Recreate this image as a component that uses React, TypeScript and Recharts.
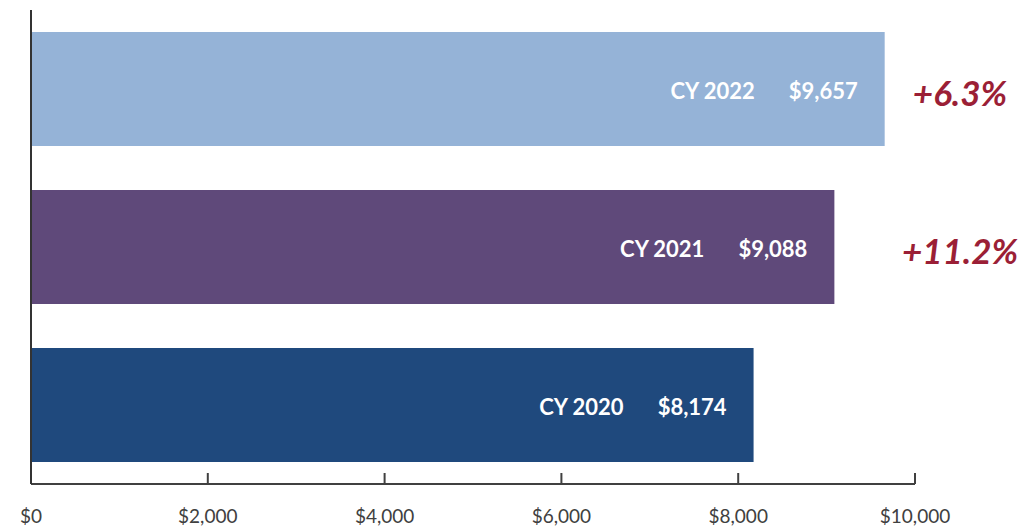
import { BarChart, Bar, XAxis, YAxis, Cell, LabelList } from 'recharts';

const years = ['CY 2022', 'CY 2021', 'CY 2020'];
const amounts = [9657, 9088, 8174];
const changes = ['+6.3%', '+11.2%', ''];
const barColors = ['#95B3D7', '#5F497A', '#1F497D'];
const xTicks = [0, 2000, 4000, 6000, 8000, 10000];

const WIDTH = 1035;
const HEIGHT = 529;
const MARGIN = { top: 10, right: 120, left: 30, bottom: 0 };
const PLOT_RIGHT = WIDTH - MARGIN.right;

const chartData = years.map((year, i) => ({
  year,
  amount: amounts[i],
  change: changes[i],
}));

const fmtMoney = (v: number) => `$${v.toLocaleString('en-US')}`;

const renderAmount = (props: any) => {
  const { x, y, width, height, value } = props;
  return (
    <text
      x={x + width - 27}
      y={y + height / 2 + 1}
      textAnchor="end"
      dominantBaseline="central"
      fill="#ffffff"
      fontFamily="Lato, 'Open Sans', sans-serif"
      fontWeight={700}
      fontSize={22}
    >
      {fmtMoney(value)}
    </text>
  );
};

const renderYear = (props: any) => {
  const { x, y, width, height, value } = props;
  return (
    <text
      x={x + width - 130}
      y={y + height / 2 + 1}
      textAnchor="end"
      dominantBaseline="central"
      fill="#ffffff"
      fontFamily="Lato, 'Open Sans', sans-serif"
      fontWeight={700}
      fontSize={22}
    >
      {value}
    </text>
  );
};

const renderChange = (props: any) => {
  const { y, height, value } = props;
  if (!value) return null;
  return (
    <text
      x={PLOT_RIGHT + 45}
      y={y + height / 2 + 3}
      textAnchor="middle"
      dominantBaseline="central"
      fill="#9B1F36"
      fontFamily="Lato, 'Open Sans', sans-serif"
      fontWeight={700}
      fontStyle="italic"
      fontSize={35}
    >
      {value}
    </text>
  );
};

export default function App() {
  return (
    <div style={{ position: 'absolute', top: 0, left: 0, background: '#fff' }}>
      <BarChart
        width={WIDTH}
        height={HEIGHT}
        data={chartData}
        layout="vertical"
        margin={MARGIN}
        barCategoryGap={22}
      >
        <XAxis
          type="number"
          domain={[0, 10000]}
          ticks={xTicks}
          tickFormatter={fmtMoney}
          height={45}
          tickSize={-11}
          tickMargin={37}
          axisLine={{ stroke: '#404040', strokeWidth: 2 }}
          tickLine={{ stroke: '#404040', strokeWidth: 2 }}
          tick={{ fill: '#404040', fontSize: 19, fontFamily: 'Lato, sans-serif' }}
          interval={0}
        />
        <YAxis
          type="category"
          dataKey="year"
          width={1}
          tick={false}
          tickLine={false}
          axisLine={{ stroke: '#333333', strokeWidth: 2 }}
        />
        <Bar dataKey="amount" isAnimationActive={false}>
          {chartData.map((d, i) => (
            <Cell key={d.year} fill={barColors[i]} />
          ))}
          <LabelList dataKey="amount" content={renderAmount} />
          <LabelList dataKey="year" content={renderYear} />
          <LabelList dataKey="change" content={renderChange} />
        </Bar>
      </BarChart>
    </div>
  );
}
